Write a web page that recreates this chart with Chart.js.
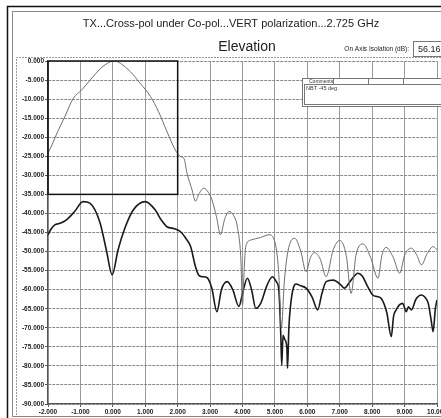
<!DOCTYPE html>
<html>
<head>
<meta charset="utf-8">
<script src="https://cdn.jsdelivr.net/npm/chart.js@4/dist/chart.umd.min.js"></script>
<style>
html,body{margin:0;padding:0;background:#fff;overflow:hidden;width:441px;height:418px;}
canvas{display:block;}
</style>
</head>
<body>
<canvas id="c" width="480" height="418"></canvas>
<script>
// ---- Data ----
const titleText = "TX...Cross-pol under Co-pol...VERT polarization...2.725 GHz";
const subtitleText = "Elevation";
const isolationLabel = "On Axis Isolation (dB):";
const isolationValue = "56.16";
const commentsHeader = "Comments";
const commentsText = "NBT -45 deg.";

const xTicksRange = [-2, 10, 1];   // min, max, step (deg)
const yTicksRange = [-90, 0, 5];   // min, max, step (dB)
const insetBox = [-2, 2, -35, 0];  // x0, x1, y0, y1 (data units)

const coPolAngle = [-2.0,-1.85,-1.7,-1.48,-1.22,-0.96,-0.7,-0.37,-0.1,0.05,0.23,0.54,0.85,1.16,1.41,1.67,1.93,2.09,2.19,2.29,2.45,2.55,2.65,2.8,2.95,3.06,3.2,3.32,3.45,3.58,3.72,3.84,3.95,4.0,4.05,4.1,4.25,4.56,4.82,5.03,5.12,5.2,5.29,5.4,5.61,5.8,5.96,6.1,6.22,6.4,6.58,6.8,7.0,7.2,7.35,7.5,7.72,7.95,8.18,8.3,8.43,8.65,8.85,9.0,9.21,9.38,9.52,9.7,9.88,10.0];
const coPolDb    = [-24.2,-21.5,-18.5,-14.6,-9.8,-7.6,-5.0,-1.9,-0.3,0,-0.6,-2.8,-5.9,-9.3,-13.3,-18.5,-23.4,-25.1,-25.5,-29.5,-34,-36.8,-35,-33.4,-34.5,-36.5,-41,-45.6,-41.5,-39.5,-40.5,-43.5,-52,-64,-55,-48.7,-47,-46.3,-45.6,-48.7,-56,-70,-58,-50,-46.5,-50,-55.3,-51.5,-50.3,-52,-56.6,-49.5,-47.1,-51,-61,-51,-48,-51.5,-57,-51,-48.9,-51.5,-55.7,-51,-49.1,-51,-53.5,-50.5,-48.7,-49.5];

const crossPolAngle = [-2.0,-1.9,-1.79,-1.63,-1.43,-1.18,-0.92,-0.71,-0.4,-0.2,-0.02,0.16,0.37,0.63,1.0,1.31,1.5,1.67,1.9,2.09,2.25,2.4,2.55,2.65,2.76,2.9,3.05,3.21,3.35,3.53,3.7,3.89,4.0,4.15,4.28,4.41,4.56,4.75,4.92,5.05,5.12,5.18,5.21,5.25,5.3,5.37,5.39,5.43,5.49,5.57,5.65,5.8,5.96,6.15,6.32,6.45,6.58,6.8,7.04,7.14,7.35,7.56,7.7,7.85,8.02,8.15,8.28,8.45,8.59,8.66,8.74,8.84,8.94,9.05,9.12,9.21,9.35,9.52,9.63,9.73,9.82,9.88,9.95,10.0];
const crossPolDb    = [-45.6,-44,-43,-42.6,-41.7,-39.5,-36.9,-37.3,-42.3,-49.6,-56.1,-49.6,-43.9,-39.1,-36.9,-39.1,-41.8,-43.5,-44,-44.8,-46.5,-48.7,-54,-56.2,-56.6,-56.8,-59.5,-65.8,-60,-57.9,-60,-64.4,-61,-57,-60,-64.9,-63.6,-59,-56.6,-58,-60,-71.5,-79.8,-72,-73,-75.4,-80.6,-70,-63.6,-59.5,-58.5,-59,-59.6,-62,-65.3,-61,-57.9,-57.5,-58.8,-59.6,-57.5,-55.7,-56.5,-59,-61.4,-61.8,-62.3,-66,-72.3,-67,-65.3,-64,-63.6,-65.8,-64.5,-65.3,-62.5,-61.4,-62,-63.6,-68,-71,-65,-62.7];

const toPts = (xs, ys) => xs.map((x, i) => ({x: x, y: ys[i]}));

const SANS = "'Liberation Sans', Arial, sans-serif";

const decor = {
  id: 'decor',
  beforeDraw(chart) {
    const ctx = chart.ctx;
    const ca = chart.chartArea;
    ctx.save();
    ctx.fillStyle = '#fff';
    ctx.fillRect(0, 0, chart.width, chart.height);
    // outer black frame
    ctx.strokeStyle = '#111';
    ctx.lineWidth = 1.5;
    ctx.beginPath();
    ctx.moveTo(7.5, 418); ctx.lineTo(7.5, 6.5); ctx.lineTo(chart.width, 6.5);
    ctx.stroke();
    // inner grey frame
    ctx.strokeStyle = '#888';
    ctx.lineWidth = 1;
    ctx.strokeRect(12.5, 11.5, chart.width, 405);
    // dotted plot-panel frame
    ctx.setLineDash([2, 1]);
    ctx.strokeStyle = '#999';
    ctx.beginPath();
    ctx.moveTo(16.5, 415); ctx.lineTo(16.5, 57.5); ctx.lineTo(chart.width, 57.5);
    ctx.stroke();
    ctx.setLineDash([]);
    // titles
    ctx.fillStyle = '#222';
    ctx.textAlign = 'center';
    ctx.textBaseline = 'middle';
    ctx.font = '11px ' + SANS;
    ctx.fillText(titleText, 231, 24);
    ctx.font = '14px ' + SANS;
    ctx.fillText(subtitleText, 247, 47);
    ctx.textAlign = 'right';
    ctx.font = '6.5px ' + SANS;
    ctx.fillText(isolationLabel, 409, 49);
    ctx.strokeStyle = '#777';
    ctx.strokeRect(413.5, 41.5, 40, 15);
    ctx.textAlign = 'left';
    ctx.font = '9px ' + SANS;
    ctx.fillText(isolationValue, 418, 49.5);
    ctx.restore();
  },
  afterDatasetsDraw(chart) {
    const ctx = chart.ctx;
    const xs = chart.scales.x, ys = chart.scales.y;
    ctx.save();
    // inset rectangle
    const x0 = xs.getPixelForValue(insetBox[0]);
    const x1 = xs.getPixelForValue(insetBox[1]);
    const y0 = ys.getPixelForValue(insetBox[2]);
    const y1 = ys.getPixelForValue(insetBox[3]);
    ctx.strokeStyle = '#111';
    ctx.lineWidth = 1.5;
    ctx.strokeRect(x0, y1, x1 - x0, y0 - y1);
    // comments box
    ctx.fillStyle = '#fff';
    ctx.fillRect(302, 78, 150, 29);
    ctx.strokeStyle = '#777';
    ctx.lineWidth = 1;
    ctx.strokeRect(302.5, 78.5, 150, 28);
    ctx.strokeRect(304.5, 84.5, 146, 20);
    ctx.beginPath();
    [333.5, 368.5, 403.5].forEach(x => { ctx.moveTo(x, 78.5); ctx.lineTo(x, 84.5); });
    ctx.stroke();
    ctx.fillStyle = '#333';
    ctx.textBaseline = 'middle';
    ctx.textAlign = 'left';
    ctx.font = '5px ' + SANS;
    ctx.fillText(commentsHeader, 309, 81.5);
    ctx.font = '5.5px ' + SANS;
    ctx.fillText(commentsText, 306, 88);
    ctx.restore();
  }
};

const tickFont = {family: SANS, size: 6.5, weight: 'bold'};

new Chart(document.getElementById('c'), {
  type: 'line',
  data: {
    datasets: [
      {
        label: 'Co-pol',
        data: toPts(coPolAngle, coPolDb),
        borderColor: '#6e6e6e',
        borderWidth: 1,
        pointRadius: 0,
        cubicInterpolationMode: 'monotone',
        fill: false
      },
      {
        label: 'Cross-pol',
        data: toPts(crossPolAngle, crossPolDb),
        borderColor: '#1a1a1a',
        borderWidth: 1.6,
        pointRadius: 0,
        cubicInterpolationMode: 'monotone',
        fill: false
      }
    ]
  },
  options: {
    responsive: false,
    animation: false,
    events: [],
    layout: {padding: {top: 61, right: 43, left: 0, bottom: 0}},
    plugins: {legend: {display: false}, tooltip: {enabled: false}, title: {display: false}},
    scales: {
      x: {
        type: 'linear',
        min: xTicksRange[0], max: xTicksRange[1],
        ticks: {stepSize: xTicksRange[2], autoSkip: false, maxRotation: 0, padding: 1,
                color: '#222', font: tickFont, callback: v => v.toFixed(3)},
        grid: {color: '#9a9a9a', lineWidth: 1, tickLength: 3, tickColor: '#555'},
        border: {color: '#555', width: 1.2},
        afterFit: s => { s.height = 14; }
      },
      y: {
        min: yTicksRange[0], max: yTicksRange[1],
        ticks: {stepSize: yTicksRange[2], autoSkip: false, padding: 1,
                color: '#222', font: tickFont, callback: v => v.toFixed(3)},
        grid: {color: '#8a8a8a', lineWidth: 1, tickLength: 3, tickColor: '#555'},
        border: {color: '#555', width: 1.2, dash: [3, 1]},
        afterFit: s => { s.width = 48; }
      }
    }
  },
  plugins: [decor]
});
</script>
</body>
</html>
